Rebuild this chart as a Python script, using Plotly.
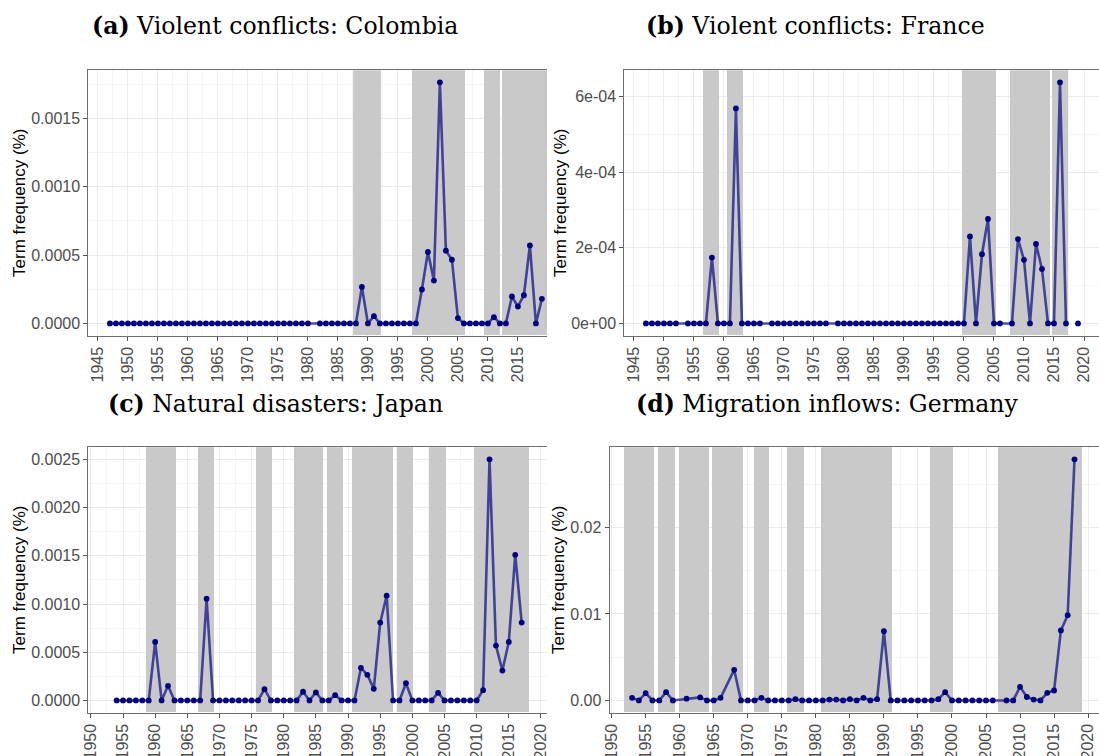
import plotly.graph_objects as go

# ---------------- data ----------------
years_a = [1947, 1948, 1949, 1950, 1951, 1952, 1953, 1954, 1955, 1956, 1957, 1958, 1959,
           1960, 1961, 1962, 1963, 1964, 1965, 1966, 1967, 1968, 1969, 1970, 1971, 1972,
           1973, 1974, 1975, 1976, 1977, 1978, 1979, 1980,
           1982, 1983, 1984, 1985, 1986, 1987, 1988, 1989, 1990, 1991, 1992, 1993, 1994,
           1995, 1996, 1997, 1998, 1999, 2000, 2001, 2002, 2003, 2004, 2005, 2006, 2007,
           2008, 2009, 2010, 2011, 2012, 2013, 2014, 2015, 2016, 2017, 2018, 2019]
values_a = [0, 0, 0, 0, 0, 0, 0, 0, 0, 0, 0, 0, 0,
            0, 0, 0, 0, 0, 0, 0, 0, 0, 0, 0, 0, 0,
            0, 0, 0, 0, 0, 0, 0, 0,
            0, 0, 0, 0, 0, 0, 0, 0.000267, 0, 0.000053, 0, 0, 0,
            0, 0, 0, 0, 0.000248, 0.000522, 0.000313, 0.001762, 0.000532, 0.000466, 0.000039, 0, 0,
            0, 0, 0, 0.000046, 0, 0, 0.000197, 0.000124, 0.000206, 0.00057, 0, 0.00018]

years_b = [1947, 1948, 1949, 1950, 1951, 1952,
           1954, 1955, 1956, 1957, 1958, 1959, 1960, 1961, 1962, 1963, 1964, 1965, 1966,
           1968, 1969, 1970, 1971, 1972, 1973, 1974, 1975, 1976, 1977,
           1979, 1980, 1981, 1982, 1983, 1984, 1985, 1986, 1987, 1988, 1989, 1990, 1991,
           1992, 1993, 1994, 1995, 1996, 1997, 1998, 1999, 2000, 2001, 2002, 2003, 2004,
           2005, 2006,
           2008, 2009, 2010, 2011, 2012, 2013, 2014, 2015, 2016, 2017, 2018, 2019]
values_b = [0, 0, 0, 0, 0, 0,
            0, 0, 0, 0, 0.000174, 0, 0, 0, 0.000568, 0, 0, 0, 0,
            0, 0, 0, 0, 0, 0, 0, 0, 0, 0,
            0, 0, 0, 0, 0, 0, 0, 0, 0, 0, 0, 0, 0,
            0, 0, 0, 0, 0, 0, 0, 0, 0, 0.00023, 0, 0.000183, 0.000276,
            0, 0,
            0, 0.000223, 0.000168, 0, 0.00021, 0.000144, 0, 0, 0.000637, 0, None, 0]

years_c = [1954, 1955, 1956, 1957, 1958, 1959, 1960, 1961, 1962, 1963, 1964, 1965, 1966,
           1967, 1968, 1969, 1970, 1971, 1972, 1973, 1974, 1975, 1976, 1977, 1978, 1979,
           1980, 1981, 1982, 1983, 1984, 1985, 1986, 1987, 1988, 1989, 1990, 1991, 1992,
           1993, 1994, 1995, 1996, 1997, 1998, 1999, 2000, 2001, 2002, 2003, 2004, 2005,
           2006, 2007, 2008, 2009, 2010, 2011, 2012, 2013, 2014, 2015, 2016, 2017]
values_c = [0, 0, 0, 0, 0, 0, 0.000607, 0, 0.000152, 0, 0, 0, 0,
            0, 0.001055, 0, 0, 0, 0, 0, 0, 0, 0, 0.000117, 0, 0,
            0, 0, 0, 0.00009, 0, 0.000083, 0, 0, 0.000055, 0, 0, 0, 0.000338,
            0.000266, 0.00012, 0.000807, 0.001086, 0, 0, 0.000179, 0, 0, 0, 0, 0.000079, 0,
            0, 0, 0, 0, 0, 0.000107, 0.0025, 0.000569, 0.00031, 0.000607, 0.00151, 0.000807]

years_d = [1953, 1954, 1955, 1956, 1957, 1958, 1959, 1961, 1963, 1964, 1965, 1966,
           1968, 1969, 1970, 1971, 1972, 1973, 1974, 1975, 1976, 1977, 1978, 1979, 1980,
           1981, 1982, 1983, 1984, 1985, 1986, 1987, 1988, 1989, 1990, 1991, 1992, 1993,
           1994, 1995, 1996, 1997, 1998, 1999, 2000, 2001, 2002, 2003, 2004, 2005, 2006,
           2008, 2009, 2010, 2011, 2012, 2013, 2014, 2015, 2016, 2017, 2018]
values_d = [0.0003, 0, 0.00085, 0, 0, 0.00096, 0, 0.0002, 0.00035, 0, 0, 0.0003,
            0.00354, 0, 0, 0, 0.0003, 0, 0, 0, 0, 0.00015, 0, 0, 0,
            0, 0.0001, 0.0001, 0, 0.00015, 0, 0.0003, 0, 0.00015, 0.008, 0, 0, 0,
            0, 0, 0, 0, 0.00015, 0.00096, 0, 0, 0, 0, 0, 0, 0,
            0, 0, 0.00158, 0.0004, 0.0001, 0, 0.00088, 0.00115, 0.0081, 0.00985, 0.02788]

# shaded periods (start year, end year)
periods_a = [(1987.5, 1992.2), (1997.45, 2006.15), (2009.4, 2012.13), (2012.4, 2021.0)]
periods_b = [(1956.6, 1959.3), (1960.6, 1963.3), (1999.65, 2005.45), (2007.75, 2014.35),
             (2014.7, 2017.42)]
periods_c = [(1958.67, 1963.25), (1966.7, 1969.2), (1975.7, 1978.2), (1981.6, 1986.2),
             (1986.7, 1989.2), (1990.7, 1997.1), (1997.6, 2000.1), (2002.6, 2005.2),
             (2009.65, 2018.2)]
periods_d = [(1951.75, 1956.2), (1956.75, 1959.2), (1959.8, 1964.2), (1964.7, 1969.2),
             (1970.8, 1973.1), (1975.7, 1978.2), (1980.7, 1991.1), (1996.7, 2000.1),
             (2006.7, 2019.1)]

titles = ["<b>(a)</b> Violent conflicts: Colombia", "<b>(b)</b> Violent conflicts: France",
          "<b>(c)</b> Natural disasters: Japan", "<b>(d)</b> Migration inflows: Germany"]
y_title = "Term frequency (%)"

ytick_vals_b = [0, 0.0002, 0.0004, 0.0006]
ytick_text_b = ["0e+00", "2e-04", "4e-04", "6e-04"]

# ---------------- layout helpers ----------------
W, H = 1099, 756


def fx(px):
    return px / W


def fy(py):
    return 1 - py / H


panels = [
    dict(years=years_a, values=values_a, periods=periods_a,
         xdom=(88.3, 547), ydom=(70.3, 335.5), xrange=(1943.4, 2019.85), tick0=1945,
         ydtick=0.0005, yminor=0.00025, yfmt=".4f", ttl_x=275, ttl_y=26, yt_x=20),
    dict(years=years_b, values=values_b, periods=periods_b,
         xdom=(624.3, 1099), ydom=(70.3, 335.5), xrange=(1943.4, 2022.5), tick0=1945,
         ydtick=None, yminor=0.0001, yfmt=None, ttl_x=815, ttl_y=26, yt_x=561),
    dict(years=years_c, values=values_c, periods=periods_c,
         xdom=(88.3, 547), ydom=(447.3, 712.5), xrange=(1949.6, 2020.94), tick0=1950,
         ydtick=0.0005, yminor=0.00025, yfmt=".4f", ttl_x=275, ttl_y=404, yt_x=20),
    dict(years=years_d, values=values_d, periods=periods_d,
         xdom=(609.6, 1099), ydom=(447.3, 712.5), xrange=(1949.7, 2021.6), tick0=1950,
         ydtick=0.01, yminor=0.005, yfmt=".2f", ttl_x=827, ttl_y=404, yt_x=559),
]

GRID = "#EBEBEB"
MINOR = "#F4F4F4"
BORDER = "#6E6E6E"
SHADE = "#C9C9C9"
TICKFONT = dict(family="Liberation Sans, Arial, sans-serif", size=16, color="#4D4D4D")

fig = go.Figure()
annotations = []

for i, p in enumerate(panels):
    n = "" if i == 0 else str(i + 1)
    xa, ya = "x" + n, "y" + n

    vals = [v for v in p["values"] if v is not None]
    vmax, vmin = max(vals), min(vals)
    span = vmax - vmin
    yr = (vmin - 0.05 * span, vmax + 0.05 * span)

    # shaded periods as full-height bars (drawn above the grid, below the series)
    centers = [(a + b) / 2 for a, b in p["periods"]]
    widths = [b - a for a, b in p["periods"]]
    fig.add_trace(go.Bar(
        x=centers, y=[yr[1] - yr[0]] * len(centers), base=yr[0], width=widths,
        marker=dict(color=SHADE, line=dict(width=0)), xaxis=xa, yaxis=ya,
        showlegend=False, hoverinfo="skip"))

    fig.add_trace(go.Scatter(
        x=p["years"], y=p["values"], xaxis=xa, yaxis=ya, mode="lines+markers",
        line=dict(color="rgba(0,0,128,0.68)", width=2.6),
        marker=dict(color="#000080", size=5.8), connectgaps=False,
        showlegend=False, cliponaxis=False, hoverinfo="skip"))

    xax = dict(domain=[fx(p["xdom"][0]), min(1.0, fx(p["xdom"][1]))], anchor=ya,
               range=list(p["xrange"]), automargin=False,
               tickmode="linear", tick0=p["tick0"], dtick=5, tickangle=-90,
               ticks="outside", ticklen=4, tickwidth=1, tickcolor="#555555",
               tickfont=TICKFONT, showgrid=True, gridcolor=GRID, gridwidth=1.2,
               minor=dict(tick0=p["tick0"], dtick=2.5, showgrid=True, gridcolor=MINOR,
                          gridwidth=0.8, ticklen=0),
               showline=True, linecolor=BORDER, linewidth=1, mirror=True,
               zeroline=False, fixedrange=True)
    yax = dict(domain=[fy(p["ydom"][1]), fy(p["ydom"][0])], anchor=xa, range=list(yr),
               automargin=False,
               ticks="outside", ticklen=4, tickwidth=1, tickcolor="#555555",
               tickfont=TICKFONT, showgrid=True, gridcolor=GRID, gridwidth=1.2,
               minor=dict(tick0=0, dtick=p["yminor"], showgrid=True, gridcolor=MINOR,
                          gridwidth=0.8, ticklen=0),
               showline=True, linecolor=BORDER, linewidth=1, mirror=False,
               zeroline=False, fixedrange=True)
    if p["ydtick"] is None:
        yax.update(tickmode="array", tickvals=ytick_vals_b, ticktext=ytick_text_b)
    else:
        yax.update(tickmode="linear", tick0=0, dtick=p["ydtick"], tickformat=p["yfmt"])

    fig.layout["xaxis" + n] = xax
    fig.layout["yaxis" + n] = yax

    annotations.append(dict(text=titles[i], x=fx(p["ttl_x"]), y=fy(p["ttl_y"]),
                            xref="paper", yref="paper", xanchor="center", yanchor="middle",
                            showarrow=False,
                            font=dict(family="DejaVu Serif, serif", size=23.6, color="black")))
    yc = (p["ydom"][0] + p["ydom"][1]) / 2
    annotations.append(dict(text=y_title, x=fx(p["yt_x"]), y=fy(yc), xref="paper", yref="paper",
                            xanchor="center", yanchor="middle", textangle=-90, showarrow=False,
                            font=dict(family="Liberation Sans, Arial, sans-serif", size=17,
                                      color="black")))

fig.update_layout(width=W, height=H, autosize=False,
                  margin=dict(l=0, r=0, t=0, b=0, pad=0, autoexpand=False),
                  paper_bgcolor="white", plot_bgcolor="white", bargap=0,
                  hovermode=False, annotations=annotations)

# remove the default page margin so the figure sits at the window's top-left corner
fig.write_html("out.html",
               config={"displayModeBar": False, "responsive": False},
               post_script="document.body.style.margin='0';"
                           "document.body.style.overflow='hidden';")
